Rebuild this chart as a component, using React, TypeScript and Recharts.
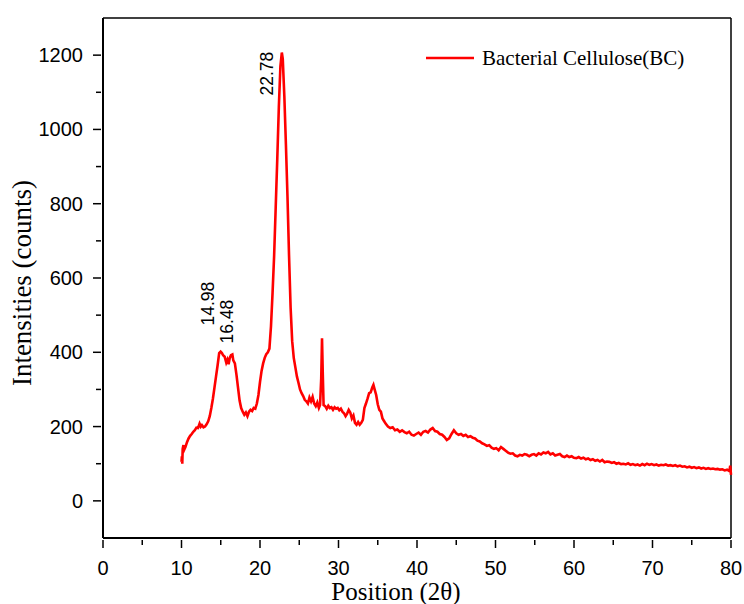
import React from 'react';
import { LineChart, Line, XAxis, YAxis, ReferenceLine, ReferenceDot, Legend } from 'recharts';

// XRD scan, values
const positions = [
  10.0, 10.05, 10.1, 10.15, 10.25, 10.35, 10.5, 10.7, 10.9, 11.1, 11.3, 11.5, 11.7, 11.9, 12.1, 12.3, 12.45, 12.6, 12.8, 13.0,
  13.2, 13.4, 13.6, 13.8, 14.0, 14.2, 14.4, 14.6, 14.8, 14.98, 15.15, 15.3, 15.5, 15.7, 15.85, 16.0, 16.15, 16.3, 16.48, 16.6,
  16.8, 17.0, 17.2, 17.4, 17.6, 17.8, 18.0, 18.2, 18.4, 18.6, 18.8, 19.0, 19.2, 19.4, 19.6, 19.8, 20.0, 20.2, 20.4, 20.6,
  20.8, 21.0, 21.2, 21.4, 21.6, 21.8, 22.0, 22.2, 22.4, 22.6, 22.78, 22.9, 23.1, 23.3, 23.5, 23.7, 23.9, 24.1, 24.3, 24.5,
  24.7, 24.9, 25.1, 25.3, 25.5, 25.7, 25.9, 26.1, 26.3, 26.5, 26.7, 26.9, 27.1, 27.3, 27.5, 27.65, 27.8, 27.9, 28.0, 28.1,
  28.3, 28.5, 28.7, 28.9, 29.1, 29.3, 29.5, 29.7, 29.9, 30.1, 30.3, 30.5, 30.7, 30.9, 31.1, 31.3, 31.5, 31.7, 31.9, 32.1,
  32.3, 32.5, 32.7, 32.9, 33.1, 33.3, 33.5, 33.7, 33.9, 34.1, 34.3, 34.45, 34.6, 34.8, 35.0, 35.2, 35.4, 35.6, 35.8, 36.0,
  36.3, 36.6, 36.9, 37.2, 37.5, 37.8, 38.1, 38.4, 38.7, 39.0, 39.3, 39.6, 39.9, 40.2, 40.5, 40.8, 41.1, 41.4, 41.7, 42.0,
  42.3, 42.6, 42.9, 43.2, 43.5, 43.8, 44.1, 44.4, 44.7, 45.0, 45.3, 45.6, 45.9, 46.2, 46.5, 46.8, 47.1, 47.4, 47.7, 48.0,
  48.3, 48.6, 48.9, 49.2, 49.5, 49.8, 50.1, 50.4, 50.7, 51.0, 51.3, 51.6, 51.9, 52.2, 52.5, 52.8, 53.1, 53.4, 53.7, 54.0,
  54.3, 54.6, 54.9, 55.2, 55.5, 55.8, 56.1, 56.4, 56.7, 57.0, 57.3, 57.6, 57.9, 58.2, 58.5, 58.8, 59.1, 59.4, 59.7, 60.0,
  60.3, 60.6, 60.9, 61.2, 61.5, 61.8, 62.1, 62.4, 62.7, 63.0, 63.3, 63.6, 63.9, 64.2, 64.5, 64.8, 65.1, 65.4, 65.7, 66.0,
  66.3, 66.6, 66.9, 67.2, 67.5, 67.8, 68.1, 68.4, 68.7, 69.0, 69.3, 69.6, 69.9, 70.2, 70.5, 70.8, 71.1, 71.4, 71.7, 72.0,
  72.3, 72.6, 72.9, 73.2, 73.5, 73.8, 74.1, 74.4, 74.7, 75.0, 75.3, 75.6, 75.9, 76.2, 76.5, 76.8, 77.1, 77.4, 77.7, 78.0,
  78.3, 78.6, 78.9, 79.2, 79.5, 79.8, 79.9, 80.0,
];

const intensities = [
  105, 120, 100, 140, 150, 138, 145, 158, 168, 175, 180, 186, 190, 197, 196, 208, 200, 204, 198, 200,
  206, 214, 228, 250, 275, 305, 335, 365, 398, 402, 398, 392, 388, 372, 380, 368, 385, 392, 394, 378,
  370, 340, 305, 270, 250, 240, 232, 238, 228, 240, 245, 242, 250, 248, 262, 285, 320, 350, 370, 385,
  395, 400, 410, 470, 560, 660, 790, 920, 1060, 1170, 1207, 1190, 1090, 960, 820, 660, 520, 430, 385, 360,
  335, 318, 300, 290, 282, 272, 268, 262, 278, 268, 280, 262, 255, 265, 250, 258, 330, 438, 340, 258,
  255, 248, 256, 250, 252, 245, 252, 248, 250, 244, 248, 240, 236, 228, 235, 245, 238, 222, 230, 210,
  205, 212, 205, 210, 218, 250, 262, 275, 290, 292, 305, 312, 300, 285, 260, 245, 240, 222, 215, 208,
  200, 196, 198, 190, 192, 186, 190, 185, 182, 186, 178, 176, 180, 184, 178, 186, 188, 184, 192, 196,
  188, 186, 180, 178, 172, 164, 168, 180, 190, 182, 178, 180, 175, 178, 172, 174, 170, 168, 162, 160,
  155, 152, 148, 150, 143, 140, 142, 136, 145, 140, 135, 130, 127, 128, 122, 120, 124, 122, 126, 124,
  120, 124, 126, 122, 128, 125, 130, 128, 132, 125, 128, 122, 124, 126, 120, 118, 122, 118, 120, 116,
  115, 118, 114, 116, 112, 114, 110, 112, 108, 110, 106, 110, 104, 106, 105, 102, 104, 100, 102, 99,
  100, 98, 101, 97, 99, 96, 98, 95, 99, 96, 100, 97, 99, 96, 98, 95, 97, 96, 98, 95,
  96, 94, 96, 93, 95, 92, 93, 90, 92, 89, 91, 88, 90, 87, 89, 86, 88, 86, 87, 85,
  86, 84, 85, 82, 84, 80, 95, 70,
];

const xTicks = [0, 5, 10, 15, 20, 25, 30, 35, 40, 45, 50, 55, 60, 65, 70, 75, 80];
const yTicks = [0, 100, 200, 300, 400, 500, 600, 700, 800, 900, 1000, 1100, 1200];

const peakPositions = [14.98, 16.48, 22.78];
const peakIntensities = [402, 394, 1207];
const peakLabels = ['14.98', '16.48', '22.78'];

const seriesName = 'Bacterial Cellulose(BC)';

const data = positions.map((x, i) => ({ x, y: intensities[i] }));

// pixel offsets of the rotated peak labels from their peaks
const labelOffsets = [
  [-7, -26],
  [1, -11],
  [-9, 43],
];

const sans = '"Liberation Sans", Arial, sans-serif';
const serif = '"Liberation Serif", "Times New Roman", serif';

const YTick = (props: any) => {
  const { x, y, payload } = props;
  const major = payload.value % 200 === 0;
  return (
    <g>
      <line x1={x - (major ? 8 : 5)} x2={x} y1={y} y2={y} stroke="#000" strokeWidth={1.5} />
      {major && (
        <text x={x - 18} y={y + 7} textAnchor="end" fontSize={20} fontFamily={sans} fill="#000">
          {payload.value}
        </text>
      )}
    </g>
  );
};

const XTick = (props: any) => {
  const { x, y, payload } = props;
  const major = payload.value % 10 === 0;
  return (
    <g>
      <line x1={x} x2={x} y1={y} y2={y + (major ? 8 : 5)} stroke="#000" strokeWidth={1.5} />
      {major && (
        <text x={x} y={y + 35} textAnchor="middle" fontSize={20} fontFamily={sans} fill="#000">
          {payload.value}
        </text>
      )}
    </g>
  );
};

const YTitle = (props: any) => {
  const { viewBox } = props;
  const x = 31;
  const y = viewBox.y + viewBox.height / 2 + 5;
  return (
    <text x={x} y={y} transform={`rotate(-90, ${x}, ${y})`} textAnchor="middle" fontSize={27} fontFamily={serif} fill="#000">
      Intensities (counts)
    </text>
  );
};

const XTitle = (props: any) => {
  const { viewBox } = props;
  return (
    <text x={viewBox.x + viewBox.width / 2 - 21} y={600} textAnchor="middle" fontSize={25} fontFamily={serif} fill="#000">
      Position (2θ)
    </text>
  );
};

const makePeakLabel = (i: number) => (props: any) => {
  const { viewBox } = props;
  const x = viewBox.x + viewBox.width / 2 + labelOffsets[i][0];
  const y = viewBox.y + viewBox.height / 2 + labelOffsets[i][1];
  return (
    <text x={x} y={y} transform={`rotate(-90, ${x}, ${y})`} textAnchor="start" fontSize={17.5} fontFamily={sans} fill="#000">
      {peakLabels[i]}
    </text>
  );
};

const LegendBox = () => (
  <div style={{ display: 'flex', alignItems: 'center', fontFamily: serif, fontSize: 21, lineHeight: '24px', color: '#000', whiteSpace: 'nowrap' }}>
    <svg width={56} height={10}>
      <line x1={0} x2={48} y1={5} y2={5} stroke="#ff0000" strokeWidth={2.6} />
    </svg>
    <span>{seriesName}</span>
  </div>
);

export default function App() {
  return (
    <div style={{ position: 'absolute', left: 0, top: 0, background: '#fff' }}>
      <LineChart width={744} height={604} data={data} margin={{ top: 18, right: 13, bottom: 0, left: 0 }}>
        <XAxis
          dataKey="x"
          type="number"
          domain={[0, 80]}
          ticks={xTicks}
          interval={0}
          tick={XTick}
          tickLine={false}
          tickSize={0}
          height={66}
          axisLine={{ stroke: '#000', strokeWidth: 2 }}
          label={XTitle}
        />
        <YAxis
          type="number"
          domain={[-100, 1300]}
          ticks={yTicks}
          interval={0}
          tick={YTick}
          tickLine={false}
          tickSize={0}
          width={103}
          axisLine={{ stroke: '#000', strokeWidth: 2 }}
          label={YTitle}
        />
        <ReferenceLine y={1300} stroke="#000" strokeWidth={1.5} />
        <ReferenceLine x={80} stroke="#000" strokeWidth={1.5} />
        <Legend
          layout="vertical"
          align="center"
          verticalAlign="middle"
          content={LegendBox}
          wrapperStyle={{ left: 426, top: 46, width: 300, height: 24 }}
        />
        <Line
          dataKey="y"
          name={seriesName}
          type="linear"
          stroke="#ff0000"
          strokeWidth={2.6}
          dot={false}
          isAnimationActive={false}
        />
        {peakPositions.map((px, i) => (
          <ReferenceDot
            key={peakLabels[i]}
            x={px}
            y={peakIntensities[i]}
            r={0.01}
            fill="none"
            stroke="none"
            label={makePeakLabel(i)}
          />
        ))}
      </LineChart>
    </div>
  );
}
